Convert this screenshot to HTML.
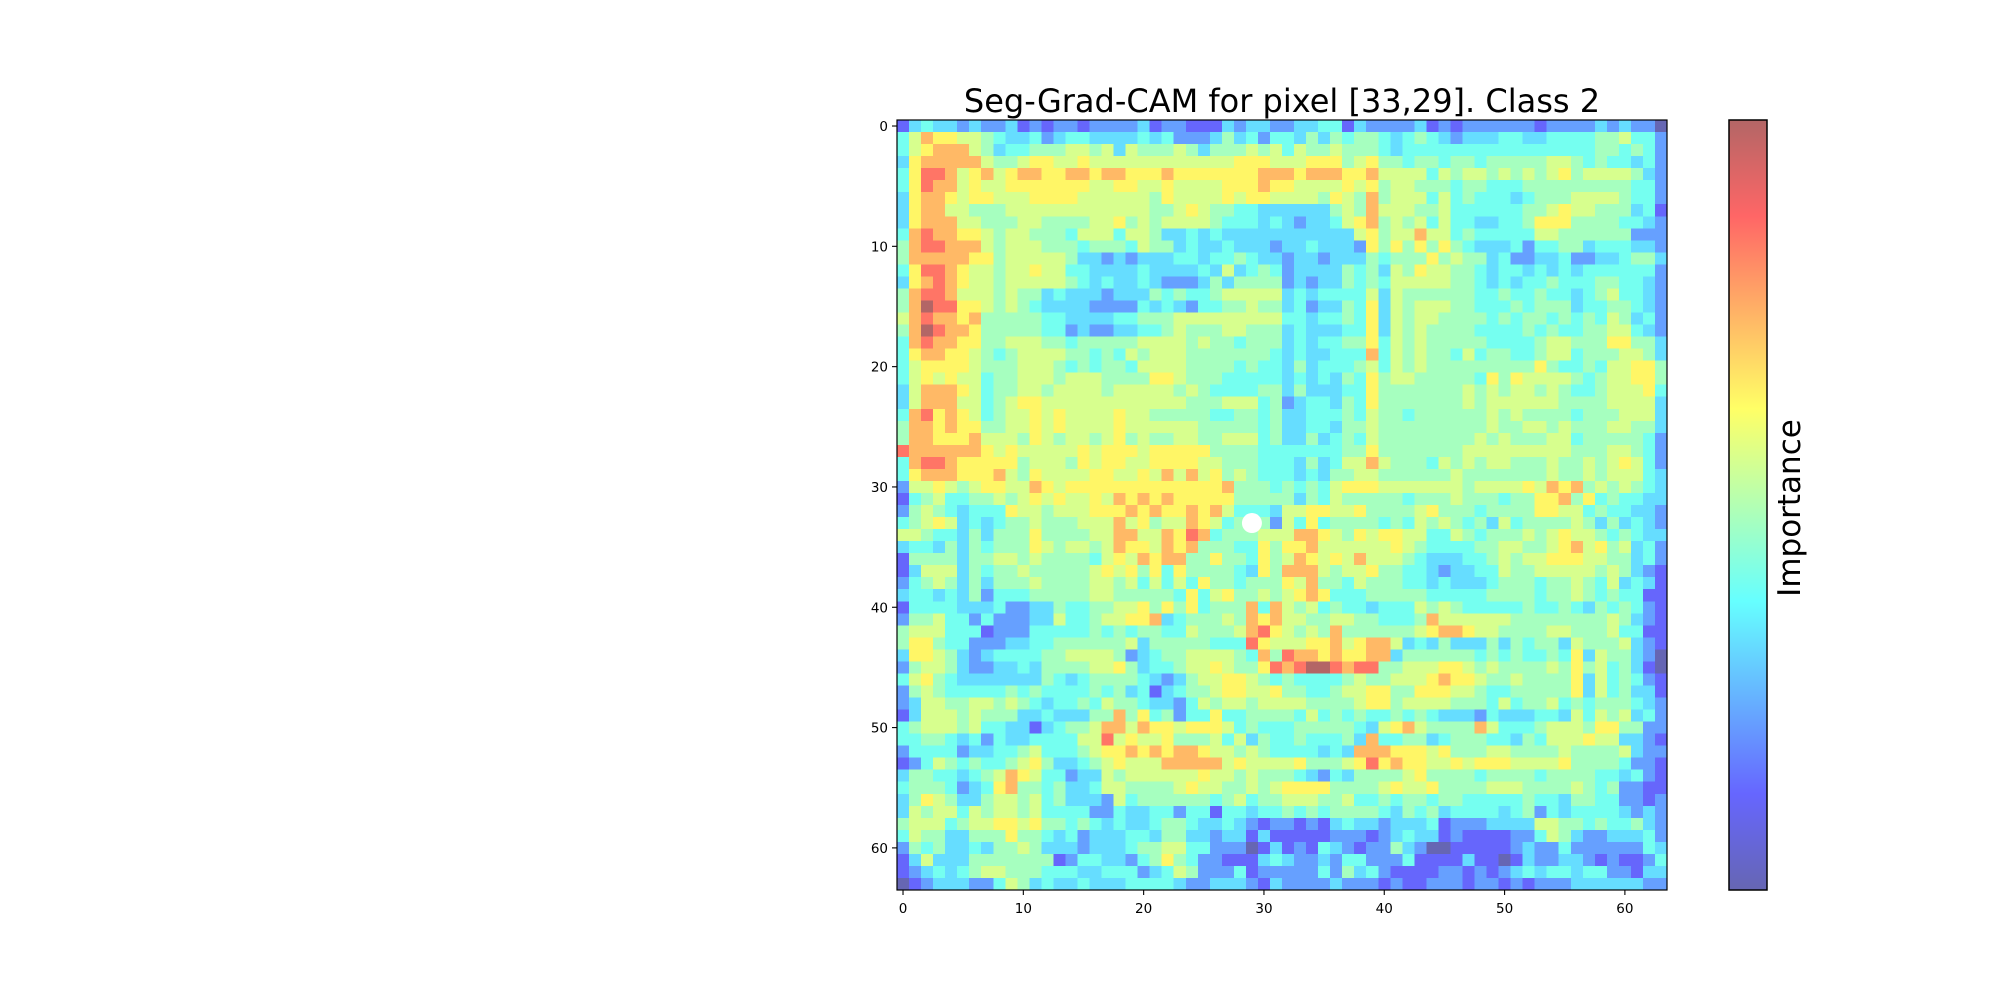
<!DOCTYPE html>
<html><head><meta charset="utf-8"><title>Seg-Grad-CAM</title>
<style>
html,body{margin:0;padding:0;background:#fff;}
svg{display:block;font-family:"DejaVu Sans","Liberation Sans",sans-serif;}
</style></head>
<body>
<svg id="chart" width="2000" height="1000" viewBox="0 0 2000 1000" xmlns="http://www.w3.org/2000/svg">
<defs>
<linearGradient id="cbgrad" x1="0" y1="1" x2="0" y2="0">
<stop offset="0" stop-color="#6666b3"/>
<stop offset="0.125" stop-color="#6666ff"/>
<stop offset="0.375" stop-color="#66ffff"/>
<stop offset="0.5" stop-color="#b3ffb3"/>
<stop offset="0.625" stop-color="#ffff66"/>
<stop offset="0.875" stop-color="#ff6666"/>
<stop offset="1" stop-color="#b36666"/>
</linearGradient>
</defs>
<text x="1282" y="112" font-size="32" text-anchor="middle" fill="#000">Seg-Grad-CAM for pixel [33,29]. Class 2</text>
<g id="cells" shape-rendering="crispEdges"></g>
<circle id="dot" r="10" fill="#fff"/>
<rect x="897" y="120" width="770" height="770" fill="none" stroke="#000" stroke-width="1.2"/>
<g id="xticks"></g>
<g id="yticks"></g>
<rect x="1729" y="120" width="38" height="770" fill="url(#cbgrad)" stroke="#000" stroke-width="1.5"/>
<text x="0" y="0" font-size="31" text-anchor="middle" transform="translate(1800,508) rotate(-90)">Importance</text>
</svg>
<script>
// data: importance level codes (0-9, a=max) per row, 64x64
const rowsLeftTop = [
"13433232231212212222312211132332","46877665433423443333434222353424","46788865344555665636555653555656","37888886556776676666666666667776",
"47998678678877887887778777777788","47988676677777776677667666677787","37887677666777766666657666676776","37886655566666666666655676554433",
"37888665556655556675656666544434","48988776566555466646653343433333","58998886566655545554655343343332","58888877566666533232333443445433",
"47998766566766443333433334363454","37898766566666543433432223535555","58998666565534333233354544566666","58a99776565433332222434324455655",
"68988785555544333344555666666666","58a98875555544232233445655566555","48988775566655455555666656554555","47887765456666554546566655555554",
"46777765556665454554666655554544","46767664556665666555577655544444","36888764556656666566666565444455","36888664567766666666666655566645",
"48978764566767666676655555445545","58878775566767666676666665555545","58877786665765665675655665566645","98888887676666676777677777555544",
"48998777775666576776677776655544","47888777865766667766768686756544","26676567766876777777777777785554","14564455656767667687878777775555"];
const rowsRightTop = [
"23344132222312122222212222323220","43535455434543233344334444556442","46556555434444444444444444554542","66777567554554554555556654544342",
"87888778666646566565656756666532","76666767566555455444555555555442","66657658566646454443455566665442","33335658666556444444556766555341",
"32334678565646443344577755554432","33333367566866454444466555555222","33433327575757543334244553444332","23323335455575655342233422334553",
"23333545365766554344343434444442","23233545466666554343445444554432","34344446365555554454454434564432","34233547365666554445455534455432",
"44344547365665555454554545465342","34333447365655554444545445566432","34344557465655555444456655577553","34334448465655464554456645556653",
"35344456465655555555575445466775","34343547566555554757666654566775","35333447555555565656656544566674","23443547555555565666666555566663",
"33444546554555555656555545556663","33443556555555555655665655566553","33534546555555556565556645555542","44444557555555566666666655566542",
"43534668655546565665556556567642","43435566555555655555556556566643","54546777666666656666768785656543","53546555554555655545577857454433"];
const rowsLeftBottom = [
"25654344476656667778787787864443","45676343455655566686756687645552","66544353555755556688668798455566","34435354555765665687768785554475",
"15555355665655554676878855755475","13666354556555556767574755554375","24565353555655556656464647554555","34434352444555556655555474675565",
"14444333422335445566757574555848","25564424222336445667783455565878","56664441222444445454554465556897","57754422233445555556355555444976",
"37765323444455666652345566665485","25665322334355556675344566765579","46754333333354345555432356677654","25654444454544445453413455677667",
"23665566565434454655433246566566","13666565553343335585745244744555","45666564433134556886877677764544","44554342433444466967667555646354",
"24444233445644456778787887665654","12465454456753345676668888867666","35544345687644233656666667665655","45554234785545334665555676655656",
"35765335665645333264555555456455","36566465665644442243344244144344","56664566776755454343345543343212","46553355575543423334435533233131",
"25453343556533323334556644222013","13633355555551244332457542211134","12343456655544433444234652224122","01233322465343343334444322333213"];
const rowsRightBottom = [
"66776675555675554555577664544332","64745555454656545364555565353432","68876576776644654555656766545433","77866666676544445566556786756342",
"68767686665433344565667776655342","88865667554432334465566666565321","76855465554434333455545565463431","67874445555544444555545565454411",
"65645443444656544444544543545421","66556655444586666665555555565321","65658555555678876655556655564411","66778678863435333535455365556321",
"98878778835555554545445473655320","89aa9899556667765655556575645310","54444565566678776556555573645421","55445667755777665445555573645331",
"66555567756666555464556454555432","54645454454543332433344364656342","45555543678655558644456665775522","45444538445534555443546667663321",
"44434388877767555665555655556322","67555679787766767776666755554221","54324355556755554555545555443421","77775555676675555666555565452211",
"66655644545545544444544355442212","54545555435453444434524344443232","21213433233341222333366554544532","11112221234331211112246532233342",
"12143212253200111112322422222243","32232442224111131101322332121124","22242534211112212123434434422133","22223222121122212212122233333322"];
const xTicks = [0,10,20,30,40,50,60];
const yTicks = [0,10,20,30,40,50,60];
const levelValues = {"0":0.0,"1":0.12,"2":0.22,"3":0.32,"4":0.40,"5":0.48,"6":0.56,"7":0.64,"8":0.74,"9":0.85,"a":1.0};
const targetPixel = [33,29];

const NS = "http://www.w3.org/2000/svg";
const X0 = 897, Y0 = 120, SIZE = 770, N = 64, CELL = SIZE / N;
function xScale(c){ return X0 + c * CELL; }
function yScale(r){ return Y0 + r * CELL; }
function clip(v){ return Math.max(0, Math.min(1, v)); }
function colorScale(v){
  const r = clip(1.5 - Math.abs(4*v - 3)), g = clip(1.5 - Math.abs(4*v - 2)), b = clip(1.5 - Math.abs(4*v - 1));
  const a = 0.6;
  const f = c => Math.round(255*(1-a) + 255*a*c);
  return "rgb(" + f(r) + "," + f(g) + "," + f(b) + ")";
}
function fix(s){ s = s.slice(0, 32); while (s.length < 32) s += s[s.length-1]; return s; }
const rows = [];
for (let i = 0; i < 32; i++) rows.push(fix(rowsLeftTop[i]) + fix(rowsRightTop[i]));
for (let i = 0; i < 32; i++) rows.push(fix(rowsLeftBottom[i]) + fix(rowsRightBottom[i]));

const g = document.getElementById("cells");
for (let r = 0; r < N; r++) {
  for (let c = 0; c < N; c++) {
    const v = levelValues[rows[r][c]];
    const el = document.createElementNS(NS, "rect");
    el.setAttribute("x", xScale(c).toFixed(2));
    el.setAttribute("y", yScale(r).toFixed(2));
    el.setAttribute("width", (CELL + 0.4).toFixed(2));
    el.setAttribute("height", (CELL + 0.4).toFixed(2));
    el.setAttribute("fill", colorScale(v));
    
    
    g.appendChild(el);
  }
}
const dot = document.getElementById("dot");
dot.setAttribute("cx", xScale(targetPixel[1] + 0.5));
dot.setAttribute("cy", yScale(targetPixel[0] + 0.5));

const xg = document.getElementById("xticks");
xTicks.forEach(t => {
  const x = xScale(t + 0.5);
  const ln = document.createElementNS(NS, "line");
  ln.setAttribute("x1", x); ln.setAttribute("x2", x);
  ln.setAttribute("y1", Y0 + SIZE); ln.setAttribute("y2", Y0 + SIZE + 5);
  ln.setAttribute("stroke", "#000"); ln.setAttribute("stroke-width", "1.1");
  
  
  xg.appendChild(ln);
  const tx = document.createElementNS(NS, "text");
  tx.setAttribute("x", x); tx.setAttribute("y", Y0 + SIZE + 23);
  tx.setAttribute("font-size", "13.5"); tx.setAttribute("text-anchor", "middle");
  tx.textContent = t;
  
  
  xg.appendChild(tx);
});
const yg = document.getElementById("yticks");
yTicks.forEach(t => {
  const y = yScale(t + 0.5);
  const ln = document.createElementNS(NS, "line");
  ln.setAttribute("x1", X0 - 5); ln.setAttribute("x2", X0);
  ln.setAttribute("y1", y); ln.setAttribute("y2", y);
  ln.setAttribute("stroke", "#000"); ln.setAttribute("stroke-width", "1.1");
  
  
  yg.appendChild(ln);
  const tx = document.createElementNS(NS, "text");
  tx.setAttribute("x", X0 - 9); tx.setAttribute("y", y + 5);
  tx.setAttribute("font-size", "13.5"); tx.setAttribute("text-anchor", "end");
  tx.textContent = t;
  
  
  yg.appendChild(tx);
});
</script>
</body></html>
